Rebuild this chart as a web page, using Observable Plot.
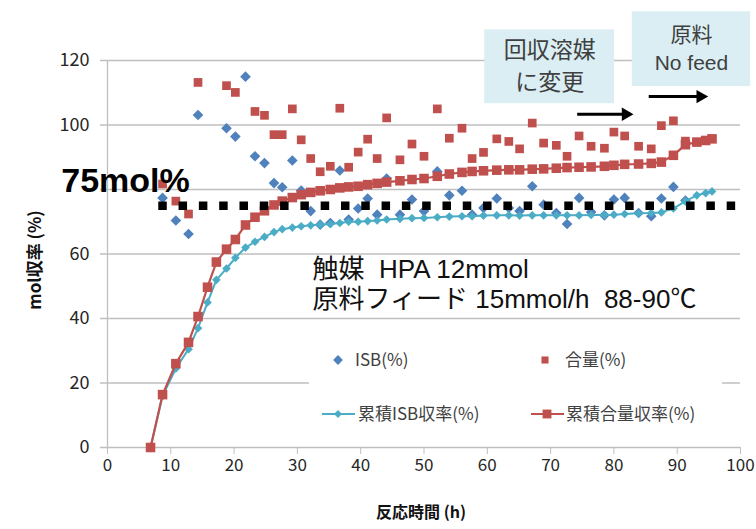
<!DOCTYPE html>
<html><head><meta charset="utf-8">
<script src="https://cdn.jsdelivr.net/npm/d3@7"></script>
<script src="https://cdn.jsdelivr.net/npm/@observablehq/plot@0.6"></script>
<style>
html,body{margin:0;padding:0;background:#fff;}
#wrap{position:relative;width:756px;height:529px;font-family:"Noto Sans CJK JP","Noto Sans",sans-serif;}
#legend{position:absolute;left:309px;top:334px;width:413px;height:100px;background:#fff;}
</style></head><body><div id="wrap"><div id="chart"></div><div id="legend"></div></div>
<script>
// ---- data (reaction time in h) ----
const times = [6.8, 8.7, 10.8, 12.8, 14.3, 15.8, 17.2, 18.8, 20.2, 21.8, 23.3, 24.8, 26.3, 27.6, 29.2, 30.6, 32.1, 33.6, 35.2, 36.7, 38.1, 39.6, 41.1, 42.6, 44.1, 46.2, 48.1, 50.0, 52.1, 54.0, 56.0, 57.6, 59.4, 61.5, 63.4, 65.1, 67.1, 68.9, 70.9, 72.6, 74.5, 76.4, 78.5, 80.0, 81.7, 83.9, 85.9, 87.5, 89.4, 91.3, 93.1, 94.5, 95.5];
const isbScatter = [null, 77.4, 70.4, 66.2, 103.1, null, null, 99, 96.4, 115, 90.3, 88.2, 82, 80.7, 89, 79.7, 73.3, 69.1, 69.6, 85.9, 70.7, 74.1, 77.2, 72.2, 83.4, 72.2, 76.9, 73.3, 85.6, 78.2, 79.6, 72.2, 74.3, 77.2, 74.3, 73.3, 81, 75.3, 72.7, 69.3, 77.4, 73, 72, 76.9, 77.4, 72.7, 71.7, 77.2, 80.8, 76.6, null, null, null];
const goryoScatter = [null, 81.7, 76.4, 72.4, 113.2, null, null, 112.2, 110.1, null, 104.2, 103, 97, 97, 105, 95.4, 89.6, 85.5, 87.2, 105.2, 86.9, 91.6, 95.6, 89.6, 102.2, 89.2, 94.1, 90.3, 105, 95.9, 99, 89.6, 91.5, 95.7, 94.9, 92.6, 100.6, 94.4, 93.7, 90.3, 96.6, 93.4, 92.8, 97.8, 96.6, 93.4, 92.6, 99.8, 101.3, 95, null, null, null];
const cumISB = [0, 16, 24.5, 30.5, 37, 45, 52, 55.5, 58.8, 62, 63.8, 65.3, 66.8, 67.7, 68.2, 68.6, 68.9, 69.1, 69.3, 69.6, 70, 70, 70.2, 70.4, 70.7, 70.9, 71.1, 71.2, 71.4, 71.6, 71.7, 71.7, 71.9, 72, 72, 71.9, 72, 72, 72, 72, 72, 72.1, 72.1, 72.2, 72.4, 72.6, 72.7, 72.9, 74.1, 76.4, 78.2, 78.9, 79.4];
const cumGoryo = [0, 16.4, 26, 32.6, 40.6, 49.7, 57.5, 61.5, 64.5, 69, 71.4, 73.4, 75.2, 76.4, 77.5, 78.4, 79.1, 79.6, 80, 80.5, 80.8, 81, 81.5, 81.9, 82.3, 82.7, 83.1, 83.4, 84.1, 84.8, 85.3, 85.6, 85.8, 86, 86.1, 86.1, 86.3, 86.4, 86.6, 86.8, 86.9, 87, 87.2, 87.5, 87.8, 87.9, 88.1, 88.5, 90.6, 93.9, 94.7, 95.2, 95.7];
const seriesNames = ["ISB(%)", "合量(%)", "累積ISB収率(%)", "累積合量収率(%)"];
const xTicks = [0, 10, 20, 30, 40, 50, 60, 70, 80, 90, 100];
const yTicks = [0, 20, 40, 60, 80, 100, 120];
// the "80" label is hidden behind the 75mol% note in the original
const yTickLabels = [0, 20, 40, 60, 100, 120];
const targetLevel = 75;
const targetLabel = "75mol%";
const conditionLines = ["触媒  HPA 12mmol", "原料フィード 15mmol/h  88-90℃"];
const noteBoxes = [
  {lines: ["回収溶媒", "に変更"], x1: 59.6, x2: 80.1, y1: 106.6, y2: 129.5, gap: 32, fs: 23},
  {lines: ["原料", "No feed"], x1: 82.9, x2: 101.6, y1: 111.9, y2: 135.1, gap: 28, fs: 21}
];
const noteArrows = [
  {x1: 74.2, x2: 83.1, y: 103.3},
  {x1: 85.5, x2: 94.9, y: 108.8}
];

const C = {isb: "#4F81BD", gor: "#C0504D", cisb: "#4BACC6", cgor: "#C0504D", grid: "#bfbfbf"};
const FONT = '"Noto Sans CJK JP","Noto Sans",sans-serif';
const LFONT = '"Liberation Sans","Noto Sans CJK JP",sans-serif';

const rows = times.map((t, i) => ({t, isb: isbScatter[i], gor: goryoScatter[i], cisb: cumISB[i], cgor: cumGoryo[i]}));

const boxLineMarks = noteBoxes.flatMap(b => b.lines.map((line, j) =>
  Plot.text([b], {x: d => (d.x1 + d.x2) / 2, y: d => (d.y1 + d.y2) / 2, text: () => line,
    dy: (j - (b.lines.length - 1) / 2) * b.gap, fontSize: b.fs, fill: "#404040", fontFamily: LFONT})));

const chart = Plot.plot({
  width: 756, height: 529,
  marginLeft: 107, marginRight: 16, marginTop: 60, marginBottom: 82,
  style: {fontFamily: FONT, background: "transparent", overflow: "visible"},
  x: {domain: [0, 100]},
  y: {domain: [0, 120]},
  marks: [
    Plot.ruleY(yTicks, {x1: -1.1, x2: 100, stroke: C.grid, strokeWidth: 1.3}),
    Plot.ruleX([0], {stroke: C.grid, strokeWidth: 1.3}),
    Plot.axisY(yTickLabels, {tickSize: 0, tickPadding: 18, stroke: C.grid, fill: "#262626", fontSize: 18, label: null}),
    Plot.axisX(xTicks, {tickSize: 7, tickPadding: 4, stroke: C.grid, fill: "#262626", fontSize: 17, label: null}),
    Plot.text(["mol収率 (%)"], {frameAnchor: "left", textAnchor: "middle", dx: -72, dy: 6, rotate: -90, fontSize: 17, fontWeight: "bold", fill: "#111"}),
    Plot.text(["反応時間 (h)"], {frameAnchor: "bottom", textAnchor: "middle", dy: 70, dx: -3, fontSize: 16, fontWeight: "bold", fill: "#111"}),
    // scatter series
    Plot.dot(rows.filter(d => d.isb != null), {x: "t", y: "isb", symbol: "diamond2", r: 4.8, fill: C.isb, stroke: "none"}),
    Plot.dot(rows.filter(d => d.gor != null), {x: "t", y: "gor", symbol: "square", r: 4.9, fill: C.gor, stroke: "none"}),
    // cumulative series
    Plot.line(rows, {x: "t", y: "cisb", stroke: C.cisb, strokeWidth: 2}),
    Plot.dot(rows, {x: "t", y: "cisb", symbol: "diamond2", r: 3.9, fill: C.cisb, stroke: "none"}),
    Plot.line(rows, {x: "t", y: "cgor", stroke: C.cgor, strokeWidth: 2.2}),
    Plot.dot(rows, {x: "t", y: "cgor", symbol: "square", r: 5.4, fill: C.cgor, stroke: "none"}),
    // 75 mol% target line
    Plot.ruleY([targetLevel], {x1: 8.1, x2: 100, stroke: "#000", strokeWidth: 8.5, strokeDasharray: "8.5,11.8"}),
    Plot.text([targetLabel], {x: -7.3, y: targetLevel, dy: -14, textAnchor: "start", lineAnchor: "bottom", fontSize: 34, fontWeight: "bold", fill: "#000", fontFamily: LFONT}),
    // conditions
    Plot.text(conditionLines, {x: 32.4, y: (d, i) => [52.5, 43.3][i], textAnchor: "start", lineAnchor: "bottom", fontSize: 26, fill: "#111", fontFamily: LFONT}),
    // note boxes
    Plot.rect(noteBoxes, {x1: "x1", x2: "x2", y1: "y1", y2: "y2", fill: "#DAEEF3"}),
    ...boxLineMarks,
    // arrows
    Plot.link(noteArrows, {x1: "x1", x2: d => d.x2 - 1.3, y1: "y", y2: "y", stroke: "#000", strokeWidth: 3}),
    Plot.dot(noteArrows, {x: "x2", y: "y", dx: -7.8, symbol: "triangle", rotate: 90, r: 5, fill: "#000", stroke: "none"})
  ]
});
document.getElementById("chart").appendChild(chart);

// legend
const lg = d3.select("#legend").append("svg").attr("width", 413).attr("height", 100)
  .style("font-family", FONT).style("font-size", "17px");
const diamond = d3.symbol(d3.symbolDiamond2), square = d3.symbol(d3.symbolSquare);
const items = [
  {name: seriesNames[0], color: C.isb, sym: diamond.size(Math.PI * 4.4 * 4.4)(), line: false, sx: 29, tx: 46, y: 26},
  {name: seriesNames[1], color: C.gor, sym: square.size(Math.PI * 4 * 4)(), line: false, sx: 236, tx: 256, y: 26},
  {name: seriesNames[2], color: C.cisb, sym: diamond.size(Math.PI * 3.6 * 3.6)(), line: true, sx: 29, tx: 49, y: 80},
  {name: seriesNames[3], color: C.cgor, sym: square.size(Math.PI * 5 * 5)(), line: true, sx: 238, tx: 257, y: 80}
];
for (const it of items) {
  if (it.line) lg.append("line").attr("x1", it.sx - 16).attr("x2", it.sx + 17).attr("y1", it.y).attr("y2", it.y)
    .attr("stroke", it.color).attr("stroke-width", 2);
  lg.append("path").attr("d", it.sym).attr("transform", `translate(${it.sx},${it.y})`).attr("fill", it.color);
  lg.append("text").attr("x", it.tx).attr("y", it.y).attr("dy", "0.35em").attr("fill", "#404040").text(it.name);
}
</script></body></html>
